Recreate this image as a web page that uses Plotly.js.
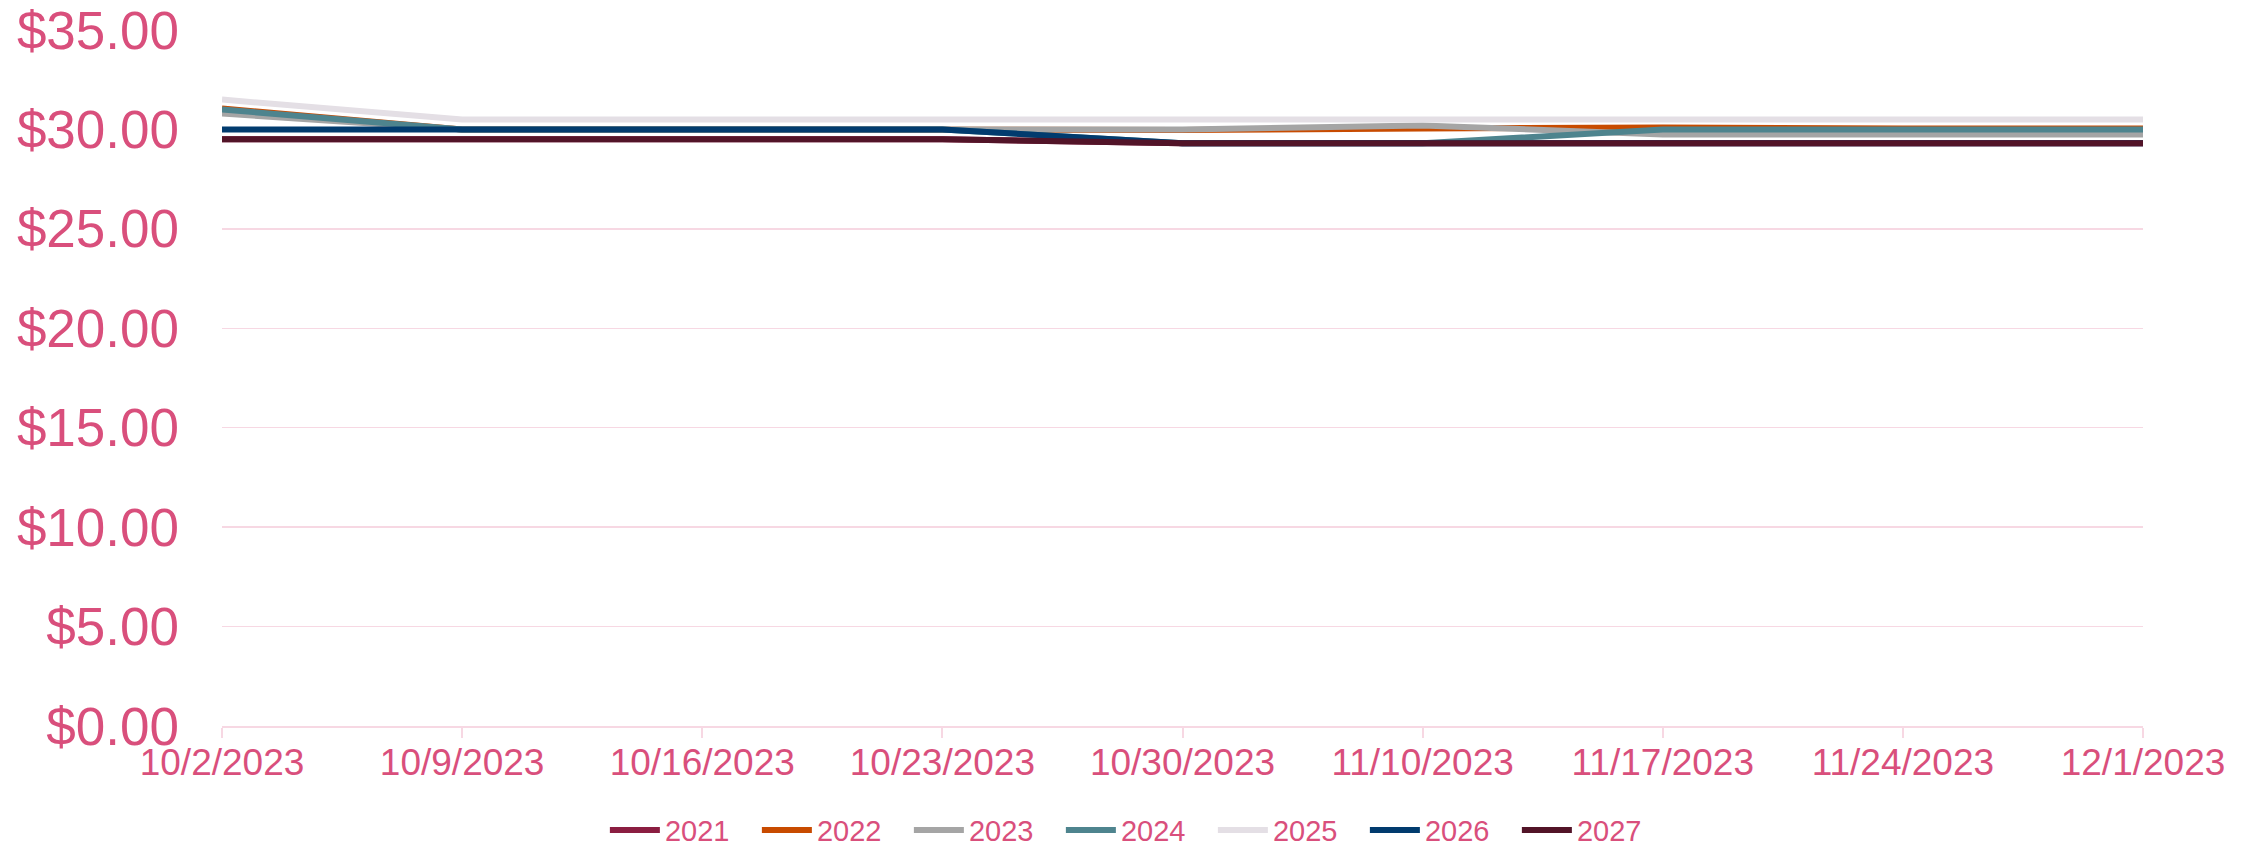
<!DOCTYPE html>
<html>
<head>
<meta charset="utf-8">
<script src="https://cdn.plot.ly/plotly-3.0.1.min.js"></script>
<style>
  html, body { margin: 0; padding: 0; background: #ffffff; }
  #chart { width: 2257px; height: 848px; }
</style>
</head>
<body>
<div id="chart"></div>
<script>
const categories = ['10/2/2023','10/9/2023','10/16/2023','10/23/2023','10/30/2023','11/10/2023','11/17/2023','11/24/2023','12/1/2023'];
const seriesNames = ['2021','2022','2023','2024','2025','2026','2027'];
const s2021 = [29.5, 29.5, 29.5, 29.5, 29.3, 29.3, 29.3, 29.3, 29.3];
const s2022 = [31.05, 30.0, 30.0, 30.0, 29.97, 30.05, 30.1, 30.05, 30.05];
const s2023 = [30.8, 30.0, 30.0, 30.0, 30.0, 30.2, 29.75, 29.75, 29.75];
const s2024 = [31.0, 30.0, 30.0, 30.0, 29.3, 29.3, 30.0, 30.0, 30.0];
const s2025 = [31.5, 30.5, 30.5, 30.5, 30.5, 30.5, 30.5, 30.5, 30.5];
const s2026 = [30.0, 30.0, 30.0, 30.0, 29.3, 29.3, 29.3, 29.3, 29.3];
const s2027 = [29.5, 29.5, 29.5, 29.5, 29.3, 29.3, 29.3, 29.3, 29.3];
const colors = ['#8B1E41', '#C84B00', '#A5A5A5', '#4E848E', '#E4DFE5', '#013B6E', '#521428'];

const allSeries = [s2021, s2022, s2023, s2024, s2025, s2026, s2027];
const textColor = '#D94F7C';
const gridColor = '#F7D8E3';

const traces = allSeries.map((vals, i) => ({
  type: 'scatter',
  mode: 'lines',
  name: seriesNames[i],
  x: categories,
  y: vals,
  line: { color: colors[i], width: 6 },
  hoverinfo: 'x+y+name'
}));

const layout = {
  width: 2257,
  height: 848,
  margin: { l: 222, r: 114, t: 30, b: 122 },
  paper_bgcolor: '#ffffff',
  plot_bgcolor: '#ffffff',
  font: { family: 'Liberation Sans, Arial, sans-serif', color: textColor },
  showlegend: true,
  legend: {
    orientation: 'h',
    xref: 'container',
    yref: 'container',
    x: 0.268,
    xanchor: 'left',
    y: 0.021,
    yanchor: 'middle',
    font: { size: 29, color: textColor },
    itemwidth: 50,
    entrywidth: 87,
    entrywidthmode: 'pixels',
    traceorder: 'normal'
  },
  xaxis: {
    type: 'category',
    categoryorder: 'array',
    categoryarray: categories,
    range: [0, 8],
    showgrid: false,
    zeroline: false,
    showline: true,
    linecolor: gridColor,
    linewidth: 2,
    ticks: 'outside',
    ticklen: 10,
    tickwidth: 2,
    tickcolor: gridColor,
    tickfont: { size: 37, color: textColor },
    ticklabelstandoff: -7,
    fixedrange: true
  },
  yaxis: {
    range: [0, 35],
    tickvals: [0, 5, 10, 15, 20, 25, 30, 35],
    tickformat: '$.2f',
    showgrid: true,
    gridcolor: gridColor,
    gridwidth: 1.5,
    zeroline: false,
    showline: false,
    ticks: '',
    tickfont: { size: 53, color: textColor },
    ticklabelstandoff: 42,
    fixedrange: true
  }
};

Plotly.newPlot('chart', traces, layout, { displayModeBar: false, staticPlot: true });
</script>
</body>
</html>
